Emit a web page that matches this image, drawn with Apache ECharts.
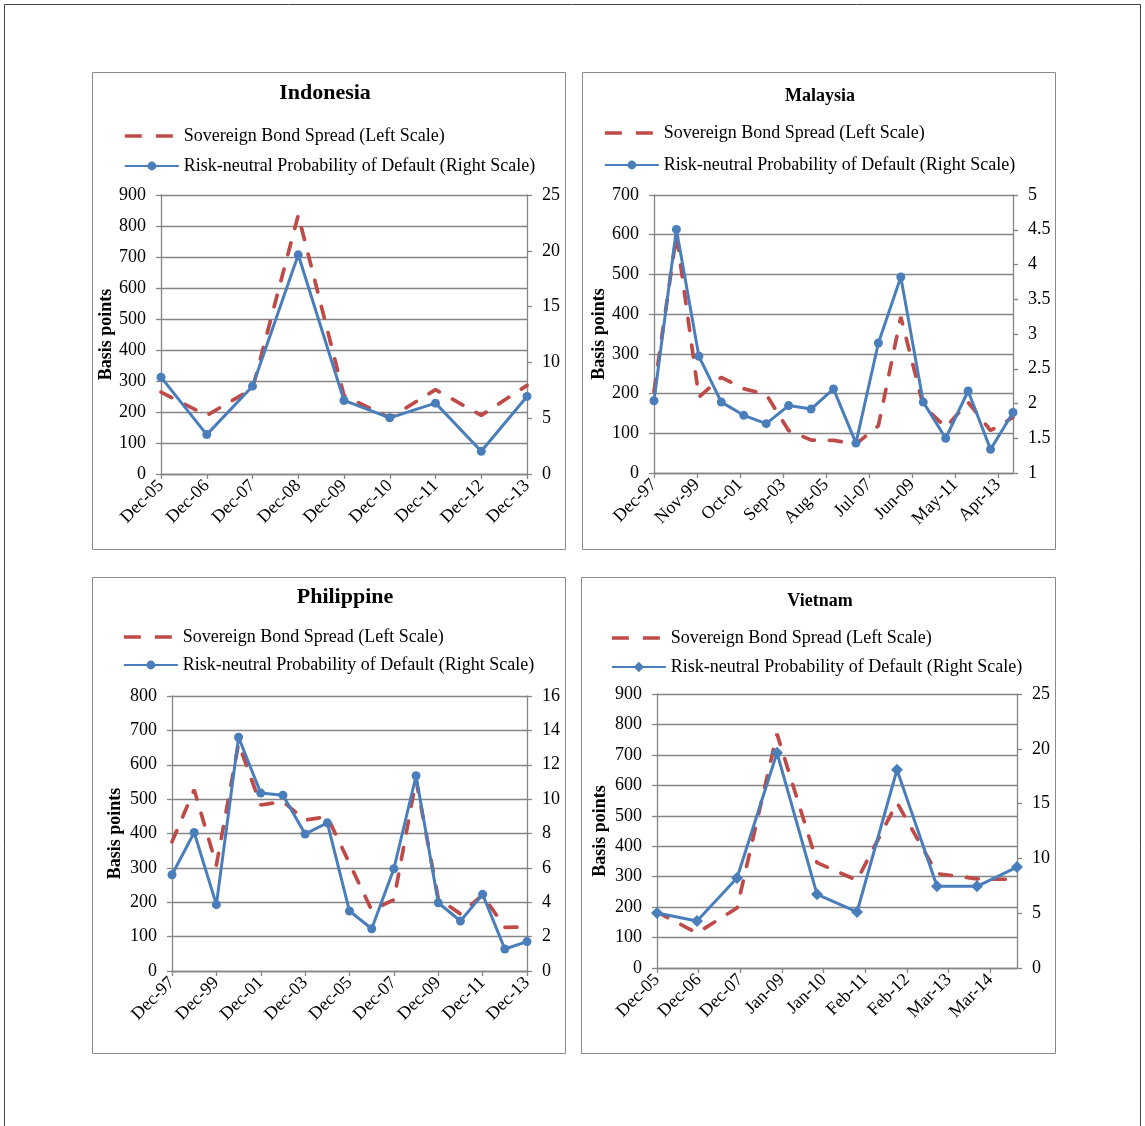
<!DOCTYPE html>
<html>
<head>
<meta charset="utf-8">
<script src="https://cdn.jsdelivr.net/npm/echarts@6/dist/echarts.min.js"></script>
<style>
html,body{margin:0;padding:0;background:#fff;}
#chart{width:1145px;height:1126px;}
</style>
</head>
<body>
<div id="chart"></div>
<script>
// ---------------- DATA ----------------
const spreadName = 'Sovereign Bond Spread (Left Scale)';
const pdName = 'Risk-neutral Probability of Default (Right Scale)';
const yAxisName = 'Basis points';

// Indonesia
const indonesiaCategories = ['Dec-05','Dec-06','Dec-07','Dec-08','Dec-09','Dec-10','Dec-11','Dec-12','Dec-13'];
const indonesiaSpread = [264, 189, 275, 835, 253, 181, 272, 189, 286];
const indonesiaPD = [8.68, 3.53, 7.87, 19.64, 6.59, 5.03, 6.35, 2.04, 6.95];

// Malaysia (annual observations on a date axis)
const malaysiaDates = ['Dec-97','Dec-98','Dec-99','Dec-00','Dec-01','Dec-02','Dec-03','Dec-04','Dec-05','Dec-06','Dec-07','Dec-08','Dec-09','Dec-10','Dec-11','Dec-12','Dec-13'];
const malaysiaTickLabels = ['Dec-97','Nov-99','Oct-01','Sep-03','Aug-05','Jul-07','Jun-09','May-11','Apr-13'];
const malaysiaSpread = [205, 600, 191, 241, 212, 198, 107, 83, 82, 73, 119, 393, 170, 115, 178, 107, 140];
const malaysiaPD = [2.04, 4.505, 2.68, 2.02, 1.83, 1.71, 1.97, 1.92, 2.21, 1.43, 2.87, 3.82, 2.02, 1.50, 2.18, 1.34, 1.87];

// Philippine
const philippineCategories = ['Dec-97','Dec-98','Dec-99','Dec-00','Dec-01','Dec-02','Dec-03','Dec-04','Dec-05','Dec-06','Dec-07','Dec-08','Dec-09','Dec-10','Dec-11','Dec-12','Dec-13'];
const philippineSpread = [376, 527, 308, 662, 483, 493, 439, 449, 313, 177, 207, 556, 211, 166, 221, 127, 128];
const philippinePD = [5.60, 8.06, 3.86, 13.60, 10.35, 10.23, 7.97, 8.62, 3.49, 2.46, 5.95, 11.36, 3.97, 2.91, 4.46, 1.28, 1.71];

// Vietnam (annual observations on a date axis)
const vietnamDates = ['Dec-05','Dec-06','Dec-07','Dec-08','Dec-09','Dec-10','Dec-11','Dec-12','Dec-13','Dec-14'];
const vietnamTickLabels = ['Dec-05','Dec-06','Dec-07','Jan-09','Jan-10','Feb-11','Feb-12','Mar-13','Mar-14'];
const vietnamSpread = [184, 115, 197, 769, 346, 288, 543, 310, 293, 291];
const vietnamPD = [5.02, 4.29, 8.21, 19.64, 6.72, 5.11, 18.09, 7.45, 7.45, 9.21];

// ---------------- HELPERS ----------------
const FONT = '"Liberation Serif", "Times New Roman", serif';
const RED = '#BE4B48';
const BLUE = '#4A7EBB';
const GRID_COLOR = '#858585';
const MONTHS = ['Jan','Feb','Mar','Apr','May','Jun','Jul','Aug','Sep','Oct','Nov','Dec'];
function monthNumber(label) {
  const [m, y] = label.split('-');
  const yy = parseInt(y, 10);
  const year = yy < 50 ? 2000 + yy : 1900 + yy;
  return year * 12 + MONTHS.indexOf(m);
}
function monthsFrom(start, label) { return monthNumber(label) - monthNumber(start); }
function pairs(dates, values) { return dates.map((d, i) => [monthsFrom(dates[0], d), values[i]]); }
function stripName(n) { return n.split('|')[0]; }

const axisLineStyle = { color: GRID_COLOR, width: 1.3 };
const labelStyle = { color: '#000', fontFamily: FONT, fontSize: 18 };

function leftAxis(gridIndex, max, nameGap) {
  return {
    type: 'value', gridIndex, position: 'left', min: 0, max, interval: 100,
    axisLine: { show: true, lineStyle: axisLineStyle },
    axisTick: { show: true, length: 5, lineStyle: axisLineStyle },
    axisLabel: Object.assign({ margin: 15 }, labelStyle),
    splitLine: { show: true, lineStyle: { color: GRID_COLOR, width: 1.4 } },
    name: yAxisName, nameLocation: 'middle', nameRotate: 90, nameGap,
    nameTextStyle: { color: '#000', fontFamily: FONT, fontSize: 18, fontWeight: 'bold' }
  };
}
function rightAxis(gridIndex, min, max, interval) {
  return {
    type: 'value', gridIndex, position: 'right', min, max, interval,
    axisLine: { show: true, lineStyle: axisLineStyle },
    axisTick: { show: true, length: 5, lineStyle: axisLineStyle },
    axisLabel: Object.assign({ margin: 15 }, labelStyle),
    splitLine: { show: false }
  };
}
function categoryXAxis(gridIndex, cats, labelInterval) {
  return {
    type: 'category', gridIndex, data: cats, boundaryGap: false,
    axisLine: { show: true, onZero: false, lineStyle: axisLineStyle },
    axisTick: { show: true, length: 5, interval: labelInterval, lineStyle: axisLineStyle },
    axisLabel: Object.assign({ rotate: 45, margin: 9, interval: labelInterval }, labelStyle),
    splitLine: { show: false }
  };
}
function dateXAxis(gridIndex, max, interval, tickLabels) {
  return {
    type: 'value', gridIndex, min: 0, max, interval,
    axisLine: { show: true, onZero: false, lineStyle: axisLineStyle },
    axisTick: { show: true, length: 5, lineStyle: axisLineStyle },
    axisLabel: Object.assign({
      rotate: 45, margin: 9, showMaxLabel: false,
      formatter: v => { const k = Math.round(v / interval); return Math.abs(k * interval - v) < 1e-6 && tickLabels[k] ? tickLabels[k] : ''; }
    }, labelStyle),
    splitLine: { show: false }
  };
}
function spreadSeries(tag, idx, data) {
  return {
    name: spreadName + '|' + tag, type: 'line', xAxisIndex: idx, yAxisIndex: idx * 2,
    data, symbol: 'none', z: 2,
    lineStyle: { color: RED, width: 3.7, type: [12, 15], cap: 'round' },
    itemStyle: { color: RED }
  };
}
function pdSeries(tag, idx, data, symbol, size) {
  return {
    name: pdName + '|' + tag, type: 'line', xAxisIndex: idx, yAxisIndex: idx * 2 + 1,
    data, symbol, symbolSize: size, showAllSymbol: true, z: 3,
    lineStyle: { color: BLUE, width: 3 },
    itemStyle: { color: BLUE }
  };
}
function legend(tag, left, top, gap, iconH) {
  return {
    left, top, orient: 'vertical', padding: 0, itemGap: gap,
    itemWidth: 54, itemHeight: iconH, itemStyle: { borderWidth: 0 },
    formatter: stripName,
    textStyle: { color: '#000', fontFamily: FONT, fontSize: 18, lineHeight: 20, padding: [0, 0, 0, 0] },
    data: [
      { name: spreadName + '|' + tag, itemStyle: { opacity: 0 }, lineStyle: { type: [17, 14], width: 3.7, cap: 'butt' } },
      { name: pdName + '|' + tag }
    ]
  };
}
function title(text, x, y, size) {
  return { text, left: x, top: y, textAlign: 'center', textVerticalAlign: 'middle', padding: 0,
    textStyle: { color: '#000', fontFamily: FONT, fontSize: size, fontWeight: 'bold' } };
}
function frame(x1, y1, x2, y2, color) {
  return { type: 'rect', silent: true, z: -10,
    shape: { x: x1 + 0.5, y: y1 + 0.5, width: x2 - x1, height: y2 - y1 },
    style: { fill: 'none', stroke: color, lineWidth: 1 } };
}

// ---------------- OPTION ----------------
const option = {
  animation: false,
  backgroundColor: '#fff',
  title: [
    title('Indonesia', 325, 93, 22),
    title('Malaysia', 820, 96, 18),
    title('Philippine', 345, 597, 22),
    title('Vietnam', 820, 601, 18)
  ],
  legend: [
    legend('ID', 123, 126, 10, 11),
    legend('MY', 603, 123, 12, 11),
    legend('PH', 122, 627, 8, 11),
    legend('VN', 610, 628, 9, 13)
  ],
  grid: [
    { left: 161, top: 195, width: 366, height: 279, outerBoundsMode: 'none' },
    { left: 654, top: 195, width: 359, height: 278, outerBoundsMode: 'none' },
    { left: 172, top: 696, width: 355, height: 275, outerBoundsMode: 'none' },
    { left: 657, top: 694, width: 360, height: 274, outerBoundsMode: 'none' }
  ],
  xAxis: [
    categoryXAxis(0, indonesiaCategories, 0),
    dateXAxis(1, monthsFrom(malaysiaDates[0], malaysiaDates[malaysiaDates.length - 1]), 23, malaysiaTickLabels),
    categoryXAxis(2, philippineCategories, 1),
    dateXAxis(3, monthsFrom(vietnamDates[0], vietnamDates[vietnamDates.length - 1]), 12.5, vietnamTickLabels)
  ],
  yAxis: [
    leftAxis(0, 900, 46), rightAxis(0, 0, 25, 5),
    leftAxis(1, 700, 46), rightAxis(1, 1, 5, 0.5),
    leftAxis(2, 800, 48), rightAxis(2, 0, 16, 2),
    leftAxis(3, 900, 48), rightAxis(3, 0, 25, 5)
  ],
  series: [
    spreadSeries('ID', 0, indonesiaSpread),
    pdSeries('ID', 0, indonesiaPD, 'circle', 9),
    spreadSeries('MY', 1, pairs(malaysiaDates, malaysiaSpread)),
    pdSeries('MY', 1, pairs(malaysiaDates, malaysiaPD), 'circle', 9),
    spreadSeries('PH', 2, philippineSpread),
    pdSeries('PH', 2, philippinePD, 'circle', 9),
    spreadSeries('VN', 3, pairs(vietnamDates, vietnamSpread)),
    pdSeries('VN', 3, pairs(vietnamDates, vietnamPD), 'diamond', 12)
  ],
  graphic: [
    frame(4, 4, 1140, 1140, '#444'),
    frame(92, 72, 565, 549, '#8a8a8a'),
    frame(582, 72, 1055, 549, '#8a8a8a'),
    frame(92, 577, 565, 1053, '#8a8a8a'),
    frame(581, 577, 1055, 1053, '#8a8a8a')
  ]
};

const chart = echarts.init(document.getElementById('chart'), null, { renderer: 'canvas' });
chart.setOption(option);
</script>
</body>
</html>
